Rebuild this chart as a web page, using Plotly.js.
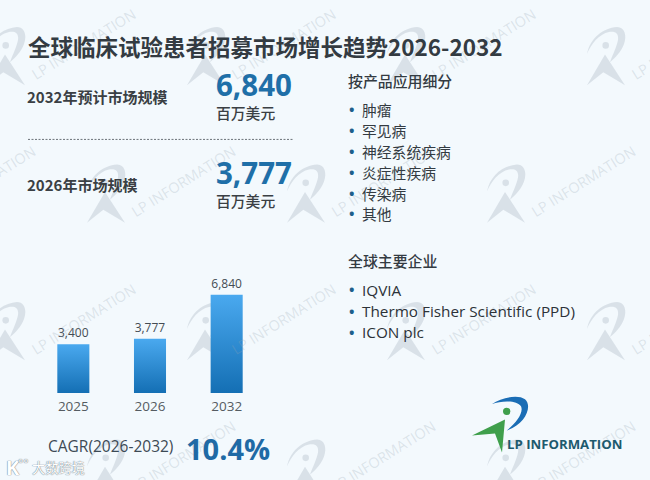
<!DOCTYPE html>
<html><head><meta charset="utf-8">
<script src="https://cdn.plot.ly/plotly-3.0.1.min.js"></script>
<style>html,body{margin:0;padding:0;background:#f3f9fd}#c{width:650px;height:480px}</style>
</head><body><div id="c"></div>
<script>
const years = ['2025','2026','2032'];
const marketSize = [3400,3777,6840];
const titleText = '全球临床试验患者招募市场增长趋势2026-2032';
const forecastLabel = '2032年预计市场规模';
const forecastValue = '6,840';
const baseLabel = '2026年市场规模';
const baseValue = '3,777';
const unitLabel = '百万美元';
const segmentHeading = '按产品应用细分';
const segments = ['肿瘤','罕见病','神经系统疾病','炎症性疾病','传染病','其他'];
const companyHeading = '全球主要企业';
const companies = ['IQVIA','Thermo Fisher Scientific (PPD)','ICON plc'];
const cagrLabel = 'CAGR(2026-2032)';
const cagrValue = '10.4%';
const brandText = 'LP INFORMATION';

const CJK = '"Noto Sans CJK SC","Noto Sans",sans-serif';
const LAT = '"Open Sans","Noto Sans CJK SC",sans-serif';
const L=35,R=265,B=392.7,T=278.1,W=R-L,H=B-T;
const X=p=>(p-L)/W, Y=p=>(B-p)/H;
const annotations=[], shapes=[];
function txt(text,x,y,size,color,opt={}){
  annotations.push({text,xref:'paper',yref:'paper',x:X(opt.anchor==='center'?x:x-1.7),y:Y(y),xanchor:opt.anchor||'left',yanchor:'middle',
    showarrow:false,borderpad:0,textangle:opt.angle||0,
    font:{family:opt.family||CJK,size,color,weight:opt.weight||400,shadow:opt.shadow||'none'}});
}
function path(d,dx,dy,fill,layer){
  const s=d.replace(/(-?[\d.]+),(-?[\d.]+)/g,(m,a,b)=>X(+a+dx)+','+Y(+b+dy));
  shapes.push({type:'path',xref:'paper',yref:'paper',path:s,fillcolor:fill,line:{width:0},layer:layer||'below'});
}
function circ(cx,cy,r,fill,layer){
  shapes.push({type:'circle',xref:'paper',yref:'paper',x0:X(cx-r),x1:X(cx+r),y0:Y(cy+r),y1:Y(cy-r),fillcolor:fill,line:{width:0},layer:layer||'below'});
}
// watermark tile
const wmFill='rgba(150,165,178,0.28)';
const wmAnchors=[[5,53],[205,53],[405,53],[605,53],[-95,190],[105,190],[305,190],[505,190],[705,190],
                 [5,327],[205,327],[405,327],[605,327],[105,464],[305,464],[505,464]];
wmAnchors.forEach(([ax,ay])=>{
  path('M-18,2 C-15,-14 -2,-24 12,-25 C20,-25 22,-16 19,-8 C16,0 10,6 5,10 C8,2 12,-6 13,-12 C14,-19 10,-21 4,-20 C-6,-18 -14,-8 -18,2 Z',ax,ay,wmFill);
  path('M-18,33 L0,2.3 L20,33 L-1.7,20 Z',ax,ay,wmFill);
  circ(ax+0.7,ay-6.7,3.3,wmFill);
  txt(brandText,ax+78,ay-8,14.5,'rgba(150,165,178,0.26)',{anchor:'center',angle:-32,family:LAT});
});
// header and KPI text
txt(titleText,29,47,22.5,'#333b42',{weight:700});
txt(forecastLabel,28,97,15,'#3a3f44',{weight:700});
txt(forecastValue,217,85,29.5,'#1f6fa8',{weight:700,family:LAT});
txt(unitLabel,217,113,14.8,'#3a3f44',{weight:500});
shapes.push({type:'line',xref:'paper',yref:'paper',x0:X(28),x1:X(293),y0:Y(140),y1:Y(140),line:{color:'#6b7278',width:1,dash:'2px,1.5px'}});
txt(baseLabel,28,185,15,'#3a3f44',{weight:700});
txt(baseValue,217,173,29.5,'#1f6fa8',{weight:700,family:LAT});
txt(unitLabel,217,201,14.8,'#3a3f44',{weight:500});
// lists
txt(segmentHeading,349,81,14.9,'#333b42',{weight:500});
const segY=[110,131,152,173,194,214];
segments.forEach((s,i)=>{txt('•',350,segY[i],14.5,'#1f5f8b',{family:LAT,weight:700});txt(s,363,segY[i],14.8,'#333b42');});
txt(companyHeading,349,261,14.9,'#333b42',{weight:500});
const compY=[290,311,332];
companies.forEach((s,i)=>{txt('•',350,compY[i],14.5,'#1f5f8b',{family:LAT,weight:700});txt(s,363,compY[i],15.3,'#2c3238',{family:LAT});});
// CAGR
txt(cagrLabel,49,446,15.5,'#3d4a55',{family:LAT});
txt(cagrValue,187,448,29,'#1f6aa5',{weight:700,family:LAT});
// brand logo
path('M491.7,404 C502,397 518,394 525,399 C533,406 525,424 506.7,430 C516,423 524,412 521,406 C517,400 502,400 491.7,404 Z',0,0,'#1a6db5','above');
path('M472,435 L505,419 L502,452 L495,433 Z',0,0,'#3f9f4c','above');
circ(506.7,411,3.7,'#3f9f4c','above');
txt(brandText,508,444,13.2,'#1d5a6e',{weight:700,family:LAT});
// source stamp
const stamp='0 0 1px #6f7e8a, 0 0 1px #6f7e8a';
txt('K',7,467,20,'#ffffff',{family:LAT,weight:700,shadow:stamp});
txt('°°',19,463,12,'#ffffff',{family:LAT,shadow:stamp});
txt('大数跨境',33,467,13.2,'#ffffff',{shadow:stamp});

const trace={type:'bar',x:years,y:marketSize,width:0.418,marker:{color:'#2b8ad3',line:{width:0}},
  texttemplate:'%{y:,}',textposition:'outside',cliponaxis:false,
  textfont:{family:LAT,size:12,color:'#444c53'},hoverinfo:'skip'};
const layout={width:650,height:480,margin:{l:L,r:650-R,t:T,b:480-B},
  paper_bgcolor:'#f3f9fd',plot_bgcolor:'rgba(0,0,0,0)',showlegend:false,
  xaxis:{type:'category',range:[-0.5,2.5],showgrid:false,zeroline:false,showline:false,ticks:'',fixedrange:true,
    ticklabelstandoff:3,tickfont:{family:LAT,size:13.5,color:'#555c62'}},
  yaxis:{range:[0,8000],visible:false,fixedrange:true},
  annotations,shapes};
Plotly.newPlot('c',[trace],layout,{displayModeBar:false,staticPlot:true}).then(gd=>{
  const svg=gd.querySelector('svg.main-svg');
  const NS='http://www.w3.org/2000/svg';
  const defs=svg.querySelector('defs');
  const g=document.createElementNS(NS,'linearGradient');
  g.setAttribute('id','barGrad');g.setAttribute('x1','0');g.setAttribute('y1','0');g.setAttribute('x2','0');g.setAttribute('y2','1');
  [['0','#4aa9ef'],['1','#146fb4']].forEach(([o,c])=>{const s=document.createElementNS(NS,'stop');s.setAttribute('offset',o);s.setAttribute('stop-color',c);g.appendChild(s);});
  defs.appendChild(g);
  gd.querySelectorAll('.barlayer .point path').forEach(p=>{p.style.fill='url(#barGrad)';});
});
</script></body></html>
